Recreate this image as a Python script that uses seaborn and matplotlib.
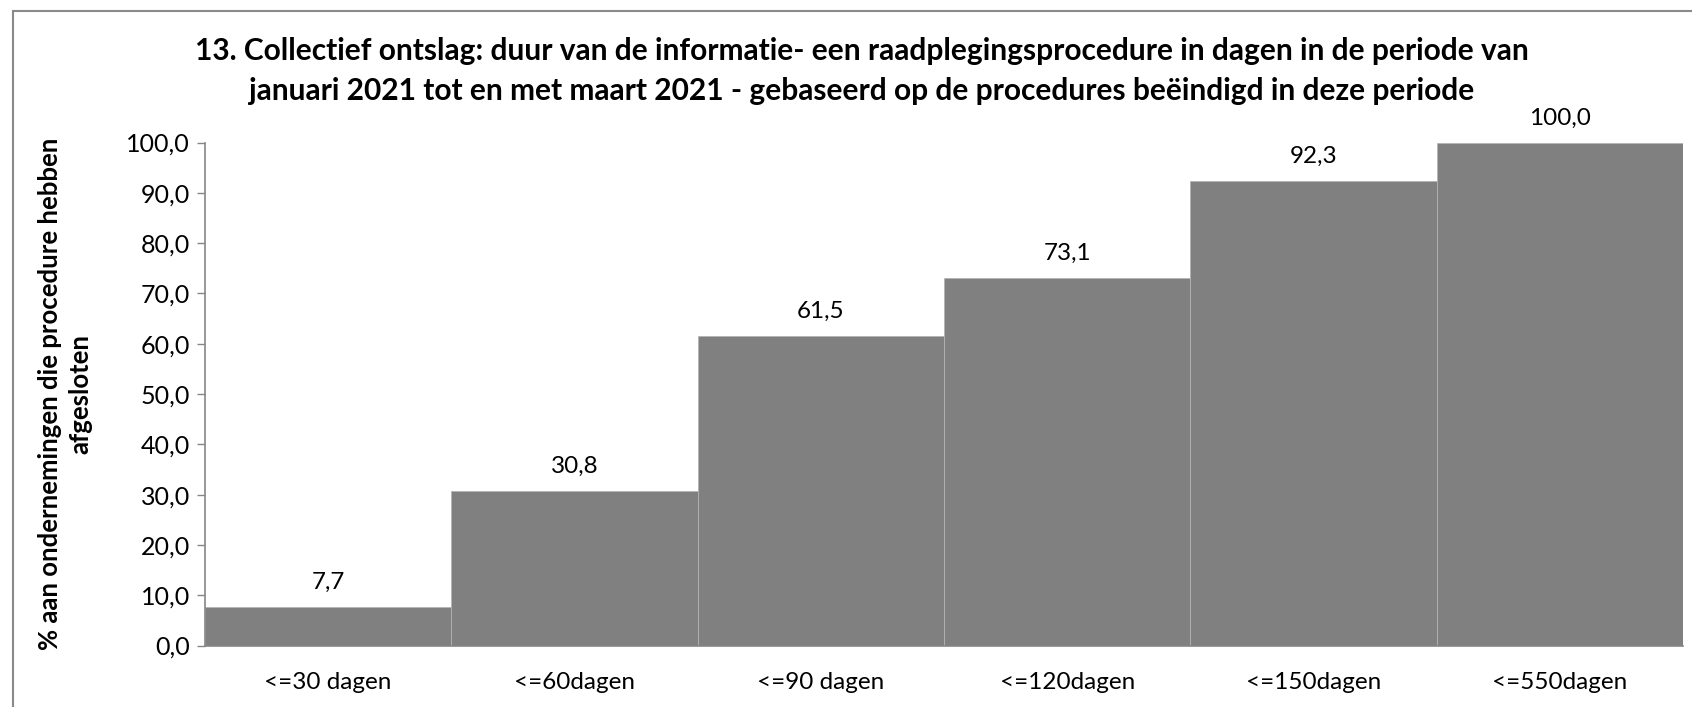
import matplotlib
matplotlib.use("Agg")
import matplotlib.pyplot as plt
import seaborn as sns
import pandas as pd
from matplotlib.patches import Rectangle

categories = ["<=30 dagen", "<=60dagen", "<=90 dagen", "<=120dagen", "<=150dagen", "<=550dagen"]
values = [7.7, 30.8, 61.5, 73.1, 92.3, 100.0]
yticks = [0, 10, 20, 30, 40, 50, 60, 70, 80, 90, 100]

title = ("13. Collectief ontslag: duur van de informatie- een raadplegingsprocedure in dagen in de periode van\n"
         "januari 2021 tot en met maart 2021 - gebaseerd op de procedures beëindigd in deze periode")
ylabel = "% aan ondernemingen die procedure hebben\nafgesloten"

sns.set_theme(style="white")
plt.rcParams['font.family'] = ['Lato', 'DejaVu Sans']

df = pd.DataFrame({"cat": categories, "val": values})

fig = plt.figure(figsize=(16.92, 7.07), dpi=100)
ax = fig.add_axes([205/1692, 1 - 645.5/707, (1683 - 205)/1692, (645.5 - 142.5)/707])

sns.barplot(data=df, x="cat", y="val", color="#808080", saturation=1, width=1.0,
            edgecolor="#b4b4b4", linewidth=0.6, ax=ax)

ax.set_ylim(0, 100)
ax.set_xlim(-0.5, len(categories) - 0.5)
ax.set_yticks(yticks)
ax.set_yticklabels([f"{v:.1f}".replace(".", ",") for v in yticks], fontsize=18)
ax.tick_params(axis="y", which="both", left=True, length=6, width=1, color="#868686", pad=5)
ax.tick_params(axis="x", bottom=False, labelsize=17.5, pad=13)
for lab in ax.get_xticklabels():
    lab.set_color("black")
for lab in ax.get_yticklabels():
    lab.set_color("black")

for s in ["top", "right"]:
    ax.spines[s].set_visible(False)
for s in ["left", "bottom"]:
    ax.spines[s].set_color("#868686")
    ax.spines[s].set_linewidth(1.2)

ax.set_xlabel("")
ax.set_ylabel("")
fig.text(65/1692, 1 - 394/707, ylabel, rotation=90, ha="center", va="center", fontsize=18.5,
         fontweight="bold", color="black", linespacing=1.3, multialignment="center")

for c in ax.containers:
    ax.bar_label(c, labels=[f"{v:.1f}".replace(".", ",") for v in values], padding=10, fontsize=17.5, color="black")

fig.text(862/1692, 1 - 71/707, title, ha="center", va="center", fontsize=21.5, fontweight="bold",
         linespacing=1.55, color="black")

fig.patches.append(Rectangle((13/1692, -0.1), 1.2, 1 - 11/707 + 0.1, transform=fig.transFigure,
                             fill=False, edgecolor="#8a8a8a", linewidth=1.5))

fig.savefig("out.png", dpi=100)
